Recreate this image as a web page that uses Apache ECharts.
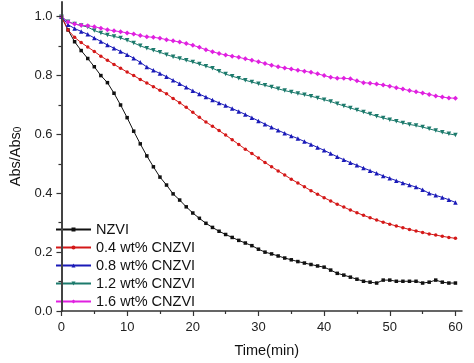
<!DOCTYPE html>
<html>
<head>
<meta charset="utf-8">
<script src="https://cdn.jsdelivr.net/npm/echarts@6/dist/echarts.min.js"></script>
<style>html,body{margin:0;padding:0;background:#fff}#c{width:474px;height:363px}</style>
</head>
<body>
<div id="c"></div>
<script>
var times = [0,1,2,3,4,5,6,7,8,9,10,11,12,13,14,15,16,17,18,19,20,21,22,23,24,25,26,27,28,29,30,31,32,33,34,35,36,37,38,39,40,41,42,43,44,45,46,47,48,49,50,51,52,53,54,55,56,57,58,59,60];
var seriesNames = ['NZVI','0.4 wt% CNZVI','0.8 wt% CNZVI','1.2 wt% CNZVI','1.6 wt% CNZVI'];
var nzvi = [1.0,0.955,0.915,0.885,0.858,0.83,0.80,0.776,0.74,0.70,0.657,0.611,0.568,0.527,0.49,0.455,0.428,0.398,0.377,0.354,0.333,0.315,0.298,0.284,0.271,0.26,0.25,0.24,0.231,0.222,0.21,0.2,0.194,0.187,0.18,0.174,0.168,0.163,0.158,0.153,0.149,0.139,0.128,0.122,0.115,0.108,0.101,0.098,0.095,0.105,0.105,0.101,0.101,0.101,0.101,0.095,0.098,0.105,0.098,0.095,0.095];
var cnzvi04 = [1.0,0.955,0.93,0.912,0.897,0.882,0.866,0.852,0.838,0.825,0.812,0.80,0.787,0.775,0.762,0.75,0.738,0.722,0.708,0.692,0.675,0.658,0.642,0.628,0.613,0.598,0.582,0.566,0.55,0.535,0.52,0.505,0.49,0.476,0.462,0.448,0.435,0.422,0.409,0.397,0.385,0.374,0.363,0.353,0.343,0.334,0.325,0.317,0.309,0.302,0.295,0.289,0.283,0.277,0.272,0.267,0.262,0.258,0.254,0.25,0.247];
var cnzvi08 = [1.0,0.973,0.96,0.95,0.94,0.928,0.916,0.904,0.893,0.882,0.871,0.859,0.845,0.829,0.818,0.807,0.796,0.784,0.772,0.76,0.748,0.737,0.727,0.717,0.707,0.698,0.688,0.678,0.668,0.657,0.646,0.635,0.624,0.614,0.604,0.595,0.586,0.576,0.566,0.556,0.546,0.535,0.524,0.514,0.504,0.495,0.486,0.477,0.468,0.459,0.451,0.443,0.435,0.428,0.421,0.412,0.40,0.393,0.386,0.378,0.369];
var cnzvi12 = [1.0,0.983,0.975,0.97,0.965,0.953,0.945,0.938,0.933,0.928,0.92,0.911,0.901,0.893,0.886,0.879,0.871,0.864,0.858,0.852,0.846,0.839,0.832,0.825,0.815,0.805,0.798,0.791,0.784,0.778,0.772,0.767,0.761,0.755,0.749,0.744,0.739,0.735,0.73,0.724,0.718,0.712,0.704,0.697,0.69,0.683,0.676,0.669,0.662,0.656,0.65,0.645,0.639,0.634,0.63,0.625,0.619,0.613,0.607,0.602,0.598];
var cnzvi16 = [1.0,0.982,0.975,0.971,0.969,0.966,0.961,0.956,0.952,0.949,0.945,0.941,0.936,0.932,0.93,0.927,0.922,0.918,0.914,0.909,0.903,0.896,0.888,0.881,0.875,0.87,0.866,0.862,0.857,0.852,0.847,0.841,0.835,0.83,0.826,0.822,0.818,0.815,0.811,0.806,0.80,0.794,0.791,0.791,0.789,0.782,0.776,0.774,0.771,0.768,0.764,0.759,0.754,0.749,0.745,0.741,0.736,0.731,0.727,0.724,0.723];
var xMajorTicks = [0,10,20,30,40,50,60];
var xMinorTicks = [5,15,25,35,45,55];
var yMajorTicks = [0,0.2,0.4,0.6,0.8,1.0];
var yMinorTicks = [0.1,0.3,0.5,0.7,0.9];

var allValues = [nzvi, cnzvi04, cnzvi08, cnzvi12, cnzvi16];
var colors = ['#111111','#d41818','#1a1ab8','#1c7a6c','#e020e0'];
var symbols = ['rect','circle','triangle','triangle','diamond'];
var symSizes = [3.5,3.5,4.5,4.5,5];
var symRot = [0,0,0,180,0];

function pairs(vals){ return times.map(function(t,i){ return [t, vals[i]]; }); }

var font = 'Liberation Sans, Arial, sans-serif';
var chart = echarts.init(document.getElementById('c'));
var series = allValues.map(function(v,i){
  return {
    name: seriesNames[i], type: 'line', data: pairs(v),
    xAxisIndex: 0, yAxisIndex: 0,
    symbol: symbols[i], symbolSize: symSizes[i], symbolRotate: symRot[i],
    showAllSymbol: true, animation: false, z: 3,
    lineStyle: {color: colors[i], width: 1},
    itemStyle: {color: colors[i]}
  };
});
var legendData = seriesNames.map(function(n,i){
  return {name: n, itemStyle: {color: colors[i]}};
});
chart.setOption({
  animation: false,
  backgroundColor: '#fff',
  grid: {left: 52, right: 12, top: 2, bottom: 50, containLabel: false},
  legend: {
    orient: 'vertical', left: 54, top: 219, z: 10,
    backgroundColor: '#fff', padding: [2, 3, 0, 1],
    itemWidth: 35, itemHeight: 5, itemGap: 1,
    textStyle: {fontFamily: font, fontSize: 14.5, color: '#111', lineHeight: 17},
    data: legendData
  },
  xAxis: [{
    type: 'value', min: 0, max: 61, z: 12,
    name: 'Time(min)', nameLocation: 'middle', nameGap: 32,
    nameTextStyle: {fontFamily: font, fontSize: 14.5, color: '#111', padding: [0,0,0,10]},
    axisLine: {lineStyle: {color: '#333', width: 1.5}},
    axisTick: {show: true, inside: false, length: 5, customValues: xMajorTicks, lineStyle: {color: '#333', width: 1.2}},
    axisLabel: {customValues: xMajorTicks, fontFamily: font, fontSize: 13, color: '#222', margin: 10},
    splitLine: {show: false}
  },{
    type: 'value', min: 0, max: 61, position: 'bottom', z: 12,
    axisLine: {show: true, lineStyle: {color: 'rgba(0,0,0,0)'}},
    axisTick: {show: true, inside: false, length: 3, customValues: xMinorTicks, lineStyle: {color: '#333', width: 1.2}},
    axisLabel: {show: false}, splitLine: {show: false}
  }],
  yAxis: [{
    type: 'value', min: 0, max: 1.05, z: 12,
    name: '{a|Abs/Abs}{b|0}', nameLocation: 'middle', nameGap: 32, nameRotate: 90,
    nameTextStyle: {rich: {
      a: {fontFamily: font, fontSize: 14.5, color: '#111'},
      b: {fontFamily: font, fontSize: 10, color: '#111', verticalAlign: 'bottom', padding: [6,0,0,0]}
    }},
    axisLine: {lineStyle: {color: '#444', width: 2}},
    axisTick: {show: true, inside: false, length: 5, customValues: yMajorTicks, lineStyle: {color: '#333', width: 1.2}},
    axisLabel: {customValues: yMajorTicks, fontFamily: font, fontSize: 13, color: '#222', margin: 9,
      formatter: function(v){ return v.toFixed(1); }},
    splitLine: {show: false}
  },{
    type: 'value', min: 0, max: 1.05, position: 'left', z: 12,
    axisLine: {show: true, lineStyle: {color: 'rgba(0,0,0,0)'}},
    axisTick: {show: true, inside: false, length: 3, customValues: yMinorTicks, lineStyle: {color: '#333', width: 1.2}},
    axisLabel: {show: false}, splitLine: {show: false}
  }],
  series: series
});
</script>
</body>
</html>
